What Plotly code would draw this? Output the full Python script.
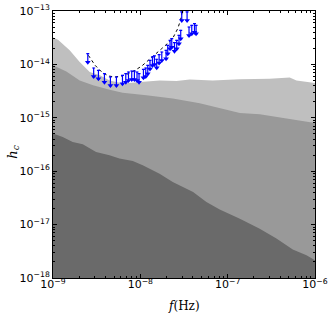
import plotly.graph_objects as go

# ---- data ----
f_light = [1e-9, 1.14e-9, 1.55e-9, 2.02e-9, 2.63e-9, 3.43e-9, 4.46e-9, 6.28e-9, 1.0e-8,
           1.67e-8, 2.59e-8, 3.68e-8, 6.75e-8, 1.38e-7, 3.03e-7, 5.14e-7, 6.14e-7, 1e-6]
h_light = [3.18e-14, 2.91e-14, 1.84e-14, 1.11e-14, 7.2e-15, 6.25e-15, 5.0e-15, 4.4e-15, 4.7e-15,
           5.0e-15, 4.9e-15, 5.2e-15, 5.0e-15, 5.3e-15, 5.4e-15, 5.7e-15, 5.0e-15, 4.5e-15]

f_mid = [1e-9, 1.42e-9, 2.02e-9, 2.87e-9, 4.46e-9, 6.28e-9, 1.17e-8, 2.35e-8, 4.79e-8,
         8.11e-8, 1.38e-7, 2.33e-7, 3.95e-7, 5.57e-7, 1e-6]
h_mid = [9.6e-15, 7.4e-15, 5.0e-15, 4.06e-15, 3.34e-15, 2.94e-15, 2.64e-15, 2.29e-15, 1.87e-15,
         1.51e-15, 1.23e-15, 1.16e-15, 1.01e-15, 9.25e-16, 8.0e-16]

f_dark = [1e-9, 1.29e-9, 1.68e-9, 2.19e-9, 3.11e-9, 4.43e-9, 5.76e-9, 8.19e-9, 1.065e-8,
          1.66e-8, 2.35e-8, 2.82e-8, 4.02e-8, 5.71e-8, 8.11e-8, 1.38e-7, 2.33e-7, 3.62e-7,
          5.57e-7, 8.0e-7, 1e-6]
h_dark = [5.06e-16, 4.37e-16, 3.52e-16, 3.19e-16, 2.29e-16, 1.99e-16, 1.72e-16, 1.55e-16, 1.29e-16,
          9.0e-17, 6.28e-17, 5.45e-17, 4.07e-17, 2.65e-17, 1.91e-17, 1.29e-17, 8.4e-18, 5.46e-18,
          3.4e-18, 2.66e-18, 2.14e-18]

f_lim = [2.50e-9, 2.92e-9, 3.31e-9, 3.88e-9, 4.54e-9, 5.32e-9, 6.24e-9, 6.81e-9, 7.31e-9,
         7.97e-9, 8.55e-9, 9.16e-9, 9.66e-9, 1.085e-8, 1.153e-8, 1.216e-8, 1.29e-8, 1.376e-8,
         1.45e-8, 1.54e-8, 1.64e-8, 1.76e-8, 1.97e-8, 2.06e-8, 2.19e-8, 2.29e-8, 2.46e-8,
         2.61e-8, 2.77e-8, 2.90e-8, 2.98e-8, 3.43e-8, 3.61e-8, 3.88e-8, 4.17e-8, 4.35e-8]
h_lim = [1.59e-14, 8.57e-15, 7.76e-15, 6.73e-15, 5.81e-15, 5.81e-15, 6.25e-15, 6.73e-15, 7.21e-15,
         7.52e-15, 7.52e-15, 7.21e-15, 6.73e-15, 8.09e-15, 8.57e-15, 9.62e-15, 1.19e-14, 1.38e-14,
         1.44e-14, 1.25e-14, 1.53e-14, 1.71e-14, 1.84e-14, 2.28e-14, 2.83e-14, 3.04e-14, 2.56e-14,
         2.83e-14, 3.51e-14, 4.35e-14, 9.6e-14, 9.6e-14, 5.02e-14, 5.40e-14, 5.81e-14, 5.40e-14]

f_curve = [2.54e-9, 3.03e-9, 3.61e-9, 4.32e-9, 5.13e-9, 6.12e-9, 7.31e-9, 8.69e-9, 1.038e-8,
           1.24e-8, 1.47e-8, 1.76e-8, 2.10e-8, 2.39e-8, 2.68e-8, 2.88e-8, 3.03e-8, 3.1e-8]
h_curve = [1.48e-14, 9.62e-15, 7.21e-15, 6.07e-15, 5.81e-15, 6.07e-15, 6.73e-15, 7.76e-15, 9.33e-15,
           1.19e-14, 1.53e-14, 1.98e-14, 2.56e-14, 3.26e-14, 4.68e-14, 6.70e-14, 1.0e-13, 1.6e-13]

x_ticks = [1e-9, 1e-8, 1e-7, 1e-6]
x_labels = ["10<sup>−9</sup>", "10<sup>−8</sup>", "10<sup>−7</sup>", "10<sup>−6</sup>"]
y_ticks = [1e-18, 1e-17, 1e-16, 1e-15, 1e-14, 1e-13]
y_labels = ["10<sup>−18</sup>", "10<sup>−17</sup>", "10<sup>−16</sup>",
            "10<sup>−15</sup>", "10<sup>−14</sup>", "10<sup>−13</sup>"]

FLOOR = 1e-18
ARROW = 10 ** -0.16

fig = go.Figure()

def band(fx, hy, color):
    xs = list(fx) + [fx[-1], fx[0]]
    ys = list(hy) + [FLOOR, FLOOR]
    fig.add_trace(go.Scatter(x=xs, y=ys, mode="lines", fill="toself", fillcolor=color,
                             line=dict(width=0, color=color), hoverinfo="skip", showlegend=False))

band(f_light, h_light, "#bfbfbf")
band(f_mid, h_mid, "#999999")
band(f_dark, h_dark, "#6a6a6a")

fig.add_trace(go.Scatter(x=f_curve, y=h_curve, mode="lines",
                         line=dict(color="black", dash="dot", width=1), showlegend=False))

h_bot = [h * ARROW for h in h_lim]
fig.add_trace(go.Scatter(
    x=f_lim, y=h_lim, mode="markers", marker=dict(size=1, color="blue"),
    error_y=dict(type="data", symmetric=False, array=[0] * len(h_lim),
                 arrayminus=[h - b for h, b in zip(h_lim, h_bot)],
                 color="blue", thickness=1.2, width=1.5),
    showlegend=False))
fig.add_trace(go.Scatter(x=f_lim, y=h_bot, mode="markers",
                         marker=dict(symbol="triangle-down", size=5, color="blue"),
                         showlegend=False))

minor_x = [m * 10.0 ** e for e in range(-9, -6) for m in range(2, 10)]
minor_y = [m * 10.0 ** e for e in range(-18, -13) for m in range(2, 10)]

axis_common = dict(type="log", showgrid=False, zeroline=False, showline=True, linecolor="black",
                   linewidth=1, mirror="allticks", ticks="inside", ticklen=4, tickcolor="black",
                   automargin=False,
                   tickfont=dict(family="DejaVu Sans", size=11, color="black"))

fig.update_xaxes(range=[-9.0005, -5.9995], tickvals=x_ticks, ticktext=x_labels,
                 minor=dict(tickvals=minor_x, ticks="inside", ticklen=2, tickcolor="black"),
                 ticklabelstandoff=-4,
                 **axis_common)
fig.update_yaxes(range=[-18.0005, -12.9995], tickvals=y_ticks, ticktext=y_labels,
                 minor=dict(tickvals=minor_y, ticks="inside", ticklen=2, tickcolor="black"),
                 **axis_common)

fig.add_annotation(text="<i>f</i>(Hz)", xref="paper", yref="paper", x=0.5, y=-0.072,
                   xanchor="center", yanchor="top", showarrow=False,
                   font=dict(family="DejaVu Serif", size=12, color="black"))
fig.add_annotation(text="<i>h</i><sub><i>c</i></sub>", xref="paper", yref="paper",
                   x=-0.152, y=0.47, xanchor="center", yanchor="middle", textangle=-90,
                   showarrow=False, font=dict(family="DejaVu Serif", size=13, color="black"))

fig.update_layout(width=332, height=317, margin=dict(l=53, r=17, t=11, b=39),
                  plot_bgcolor="white", paper_bgcolor="white")

fig.write_html("out.html", post_script="document.body.style.margin='0';",
               config={"displayModeBar": False})
